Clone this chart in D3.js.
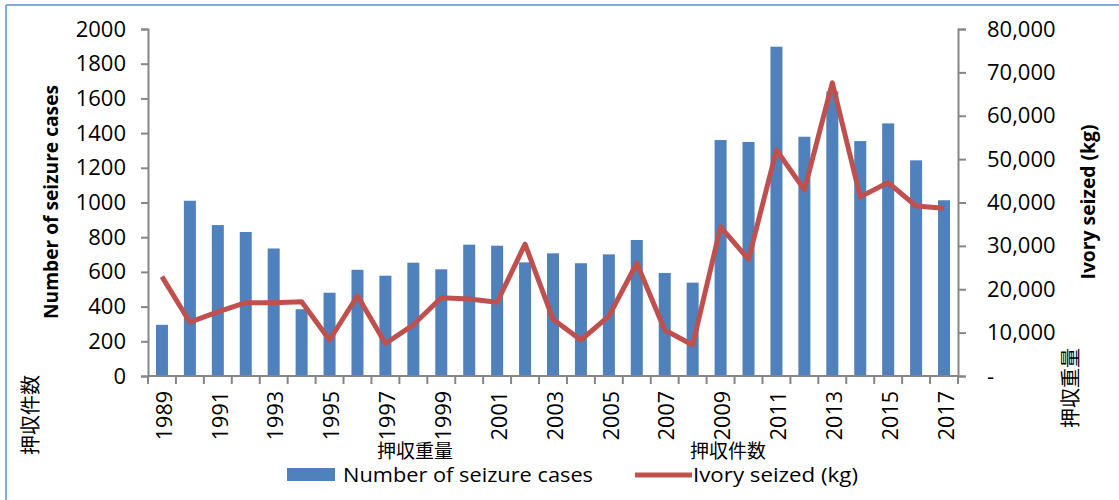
<!DOCTYPE html>
<html>
<head>
<meta charset="utf-8">
<script src="https://cdn.jsdelivr.net/npm/d3@7/dist/d3.min.js"></script>
<style>
  html, body { margin: 0; padding: 0; background: #ffffff; }
  svg { display: block; }
</style>
</head>
<body>
<svg id="chart" width="1119" height="500"></svg>
<script>
const years = [1989,1990,1991,1992,1993,1994,1995,1996,1997,1998,1999,2000,2001,2002,2003,2004,2005,2006,2007,2008,2009,2010,2011,2012,2013,2014,2015,2016,2017];
const seizureCases = [295,1010,870,830,735,385,480,612,578,653,615,757,751,655,707,650,701,784,594,538,1360,1349,1898,1379,1640,1354,1456,1243,1013];
const ivorySeized = [22900,12400,14800,16900,16900,17100,8300,18500,7500,11800,18050,17750,17000,30400,13100,8300,13800,26000,10600,7150,34400,26900,52100,42900,67600,41300,44600,39200,38700];
const leftTicks = [0,200,400,600,800,1000,1200,1400,1600,1800,2000];
const rightTicks = [0,10000,20000,30000,40000,50000,60000,70000,80000];
const xLabelYears = [1989,1991,1993,1995,1997,1999,2001,2003,2005,2007,2009,2011,2013,2015,2017];
const leftTitle = "Number of seizure cases";
const rightTitle = "Ivory seized (kg)";
const leftNote = "押収件数";
const rightNote = "押収重量";
const legendLabels = ["Number of seizure cases", "Ivory seized (kg)"];

const svg = d3.select("#chart");
const W = 1119, H = 500;
const plot = { left: 148, right: 958, top: 29, bottom: 376 };
const axisColor = "#868686";
const barColor = "#4f81bd";
const lineColor = "#c0504d";
const font = "'Open Sans', 'Liberation Sans', sans-serif";
const cjk = "'Noto Sans CJK JP', 'Noto Sans CJK SC', sans-serif";

// frame (top and left edges)
svg.append("line").attr("x1", 6).attr("x2", W).attr("y1", 5).attr("y2", 5)
  .attr("stroke", "#7faadd").attr("stroke-width", 2);
svg.append("line").attr("x1", 6).attr("x2", 6).attr("y1", 5).attr("y2", H)
  .attr("stroke", "#7faadd").attr("stroke-width", 2);

const x = d3.scaleBand().domain(years).range([plot.left, plot.right]).paddingInner(0).paddingOuter(0);
const yL = d3.scaleLinear().domain([0, 2000]).range([plot.bottom, plot.top]);
const yR = d3.scaleLinear().domain([0, 80000]).range([plot.bottom, plot.top]);

const barW = x.bandwidth() * 0.43;

// bars
svg.append("g").selectAll("rect").data(years).join("rect")
  .attr("x", (d) => x(d) + (x.bandwidth() - barW) / 2)
  .attr("width", barW)
  .attr("y", (d, i) => yL(seizureCases[i]))
  .attr("height", (d, i) => yL(0) - yL(seizureCases[i]))
  .attr("fill", barColor);

// left axis
const gL = svg.append("g").attr("transform", `translate(${plot.left},0)`)
  .call(d3.axisLeft(yL).tickValues(leftTicks).tickSize(7).tickPadding(15).tickFormat(d3.format("d")));
gL.select(".domain").attr("stroke", axisColor).attr("stroke-width", 2);
gL.selectAll(".tick line").attr("stroke", axisColor).attr("stroke-width", 2);
gL.selectAll(".tick text").attr("font-family", font).attr("font-size", 22).attr("fill", "#000");

// right axis
const gR = svg.append("g").attr("transform", `translate(${plot.right},0)`)
  .call(d3.axisRight(yR).tickValues(rightTicks).tickSize(8).tickPadding(21)
    .tickFormat((d) => d === 0 ? "-" : d3.format(",")(d)));
gR.select(".domain").attr("stroke", axisColor).attr("stroke-width", 2);
gR.selectAll(".tick line").attr("stroke", axisColor).attr("stroke-width", 2);
gR.selectAll(".tick text").attr("font-family", font).attr("font-size", 22).attr("fill", "#000");

// x axis
const gX = svg.append("g").attr("transform", `translate(0,${plot.bottom})`);
gX.append("line").attr("x1", plot.left).attr("x2", plot.right).attr("y1", 0).attr("y2", 0)
  .attr("stroke", axisColor).attr("stroke-width", 2);
const bounds = years.map((d) => x(d)).concat([plot.right]);
gX.selectAll("line.tk").data(bounds).join("line").attr("class", "tk")
  .attr("x1", (d) => d).attr("x2", (d) => d).attr("y1", 0).attr("y2", 8)
  .attr("stroke", axisColor).attr("stroke-width", 2);
gX.selectAll("text").data(xLabelYears).join("text")
  .attr("transform", (d) => `translate(${x(d) + x.bandwidth() / 2 + 2},15) rotate(-90)`)
  .attr("text-anchor", "end")
  .attr("dy", "0.36em")
  .attr("font-family", font).attr("font-size", 21.5).attr("fill", "#000")
  .text((d) => d);

// line
const line = d3.line()
  .x((d, i) => x(years[i]) + x.bandwidth() / 2)
  .y((d) => yR(d));
svg.append("path").datum(ivorySeized)
  .attr("d", line)
  .attr("fill", "none")
  .attr("stroke", lineColor)
  .attr("stroke-width", 5)
  .attr("stroke-linejoin", "round")
  .attr("stroke-linecap", "butt");

// axis titles
svg.append("text")
  .attr("transform", "translate(51,202) rotate(-90)")
  .attr("text-anchor", "middle").attr("dy", "0.35em")
  .attr("font-family", font).attr("font-weight", "bold").attr("font-size", 19)
  .attr("textLength", 234).attr("lengthAdjust", "spacingAndGlyphs")
  .attr("fill", "#000").text(leftTitle);
svg.append("text")
  .attr("transform", "translate(1088,202) rotate(-90)")
  .attr("text-anchor", "middle").attr("dy", "0.35em")
  .attr("font-family", font).attr("font-weight", "bold").attr("font-size", 19)
  .attr("textLength", 155).attr("lengthAdjust", "spacingAndGlyphs")
  .attr("fill", "#000").text(rightTitle);

// CJK notes
svg.append("text")
  .attr("transform", "translate(31,415) rotate(-90)")
  .attr("text-anchor", "middle").attr("dy", "0.36em")
  .attr("font-family", cjk).attr("font-size", 20).attr("fill", "#000").text(leftNote);
svg.append("text")
  .attr("transform", "translate(1071,388) rotate(-90)")
  .attr("text-anchor", "middle").attr("dy", "0.36em")
  .attr("font-family", cjk).attr("font-size", 20).attr("fill", "#000").text(rightNote);
svg.append("text")
  .attr("x", 377).attr("y", 458)
  .attr("font-family", cjk).attr("font-size", 19).attr("fill", "#000").text(rightNote);
svg.append("text")
  .attr("x", 690).attr("y", 458)
  .attr("font-family", cjk).attr("font-size", 19).attr("fill", "#000").text(leftNote);

// legend
const lg = svg.append("g");
lg.append("rect").attr("x", 287).attr("y", 468).attr("width", 48).attr("height", 13).attr("fill", barColor);
lg.append("text").attr("x", 343).attr("y", 482)
  .attr("font-family", font).attr("font-size", 20).attr("fill", "#000")
  .attr("textLength", 250).attr("lengthAdjust", "spacingAndGlyphs")
  .text(legendLabels[0]);
lg.append("line").attr("x1", 635).attr("x2", 692).attr("y1", 475).attr("y2", 475)
  .attr("stroke", lineColor).attr("stroke-width", 5);
lg.append("text").attr("x", 693).attr("y", 482)
  .attr("font-family", font).attr("font-size", 20).attr("fill", "#000")
  .attr("textLength", 165).attr("lengthAdjust", "spacingAndGlyphs")
  .text(legendLabels[1]);
</script>
</body>
</html>
